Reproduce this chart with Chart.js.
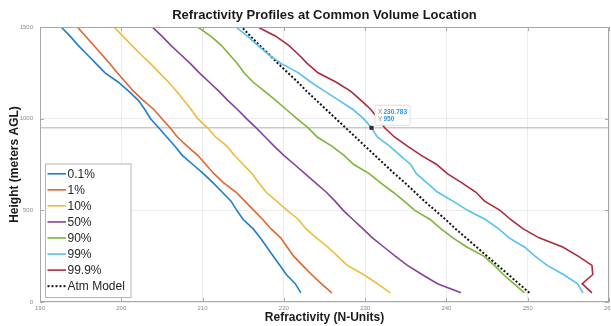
<!DOCTYPE html>
<html>
<head>
<meta charset="utf-8">
<title>Refractivity Profiles at Common Volume Location</title>
<script src="https://cdn.jsdelivr.net/npm/chart.js@4/dist/chart.umd.min.js"></script>
<style>
  html, body { margin: 0; padding: 0; background: #ffffff; overflow: hidden; }
  canvas { display: block; }
</style>
</head>
<body>
<canvas id="chart" width="611" height="326"></canvas>
<script>
// Heights above ground level (m) shared by every profile
const heights = [50, 100, 150, 200, 250, 300, 350, 400, 450, 500,
                 550, 600, 650, 700, 750, 800, 850, 900, 950, 1000,
                 1050, 1100, 1150, 1200, 1250, 1300, 1350, 1400, 1450, 1500];

// Refractivity (N-units) percentile profiles, one value per height
const p0_1 = [222.1, 221.4, 220.3, 219.5, 218.7, 217.9, 217.1, 216.2, 215.0, 214.2,
              213.5, 212.4, 211.3, 210.1, 208.8, 207.5, 206.6, 205.6, 204.6, 203.6,
              202.9, 202.1, 200.9, 199.6, 198.0, 196.9, 195.8, 194.7, 193.7, 192.6];
const p1   = [225.9, 224.6, 223.4, 222.3, 221.2, 220.4, 219.6, 218.4, 217.4, 216.3,
              215.2, 214.1, 212.6, 211.4, 210.4, 209.4, 208.1, 206.9, 206.0, 205.0,
              204.0, 202.7, 201.5, 200.5, 199.5, 198.6, 197.6, 196.6, 195.6, 194.6];
const p10  = [233.1, 231.5, 229.8, 227.8, 226.6, 225.4, 224.0, 222.7, 221.8, 220.4,
              219.1, 217.8, 216.9, 216.1, 215.0, 213.9, 213.0, 211.6, 210.6, 209.4,
              208.6, 207.7, 206.8, 205.8, 204.7, 203.6, 202.4, 201.3, 200.2, 199.1];
const p50  = [241.8, 238.9, 237.0, 235.2, 233.7, 232.3, 230.9, 229.7, 228.5, 227.3,
              226.3, 225.2, 223.9, 222.6, 221.3, 220.0, 218.8, 217.7, 216.6, 215.4,
              214.3, 213.1, 212.0, 210.8, 209.6, 208.5, 207.3, 206.1, 205.0, 203.8];
const p90  = [249.6, 248.3, 247.0, 245.9, 244.6, 242.5, 240.8, 239.3, 238.0, 236.1,
              234.8, 233.4, 231.9, 230.5, 228.6, 227.4, 225.9, 224.1, 223.0, 221.6,
              220.3, 219.0, 217.6, 216.2, 215.1, 214.3, 213.3, 212.3, 211.0, 209.4];
const p99  = [256.8, 256.1, 254.4, 252.4, 250.9, 249.6, 247.7, 246.4, 244.8, 242.6,
              240.8, 238.9, 237.6, 236.3, 235.6, 234.3, 233.0, 231.5, 230.783, 229.8,
              228.5, 226.8, 225.0, 223.3, 221.8, 219.7, 218.1, 216.8, 215.5, 214.1];
const p99_9 = [257.9, 256.7, 258.0, 257.9, 256.2, 254.3, 251.4, 249.4, 247.9, 246.6,
               244.7, 243.6, 241.9, 240.1, 238.8, 236.9, 235.2, 233.6, 232.4, 231.6,
               230.7, 229.5, 228.2, 226.4, 224.2, 222.9, 221.8, 220.6, 219.0, 216.8];
// Reference atmosphere model
const atmModel = [250.2, 248.9, 247.6, 246.3, 245.0, 243.7, 242.4, 241.1, 239.9, 238.6,
                  237.3, 236.1, 234.9, 233.6, 232.4, 231.2, 230.0, 228.8, 227.6, 226.4,
                  225.2, 224.0, 222.8, 221.7, 220.5, 219.3, 218.2, 217.0, 215.9, 214.8];

const seriesLabels = ['0.1%', '1%', '10%', '50%', '90%', '99%', '99.9%', 'Atm Model'];
const seriesValues = [p0_1, p1, p10, p50, p90, p99, p99_9, atmModel];
const seriesColors = ['#1f7fc6', '#e0652f', '#f0bb3a', '#8a3f9a', '#7eb43a', '#55c1ee', '#aa2a3e', '#111111'];

const xTicks = [190, 200, 210, 220, 230, 240, 250, 260];
const yTicks = [0, 500, 1000, 1500];

// Data tip pinned on the 99% profile at 950 m
const tipSeries = 5;
const tipIndex = heights.indexOf(950);

const FONT = "'Liberation Sans', Arial, Helvetica, sans-serif";
Chart.defaults.font.family = FONT;

const datasets = seriesValues.map((vals, i) => {
  const isModel = seriesLabels[i] === 'Atm Model';
  return {
    label: seriesLabels[i],
    data: vals.map((v, k) => ({ x: v, y: heights[k] })),
    borderColor: seriesColors[i],
    backgroundColor: seriesColors[i],
    borderWidth: isModel ? 2 : 1.6,
    borderDash: isModel ? [2, 2] : [],
    pointRadius: 0,
    tension: 0,
    fill: false
  };
});

// Axes box with inward tick marks, plus the horizontal cursor line
const framePlugin = {
  id: 'frame',
  beforeDatasetsDraw(chart) {
    const { ctx, chartArea: a, scales } = chart;
    const yp = scales.y.getPixelForValue(heights[tipIndex]);
    ctx.save();
    ctx.strokeStyle = '#c9c9c9';
    ctx.lineWidth = 1.5;
    ctx.beginPath();
    ctx.moveTo(a.left, yp);
    ctx.lineTo(a.right, yp);
    ctx.stroke();
    ctx.restore();
  },
  afterDatasetsDraw(chart) {
    const { ctx, chartArea: a, scales } = chart;
    ctx.save();
    ctx.strokeStyle = '#a8a8a8';
    ctx.lineWidth = 1;
    ctx.strokeRect(a.left + 0.5, a.top + 0.5, a.right - a.left - 1, a.bottom - a.top - 1);
    ctx.beginPath();
    const tl = 4;
    xTicks.forEach(v => {
      const px = Math.round(scales.x.getPixelForValue(v)) + 0.5;
      ctx.moveTo(px, a.bottom); ctx.lineTo(px, a.bottom - tl);
      ctx.moveTo(px, a.top); ctx.lineTo(px, a.top + tl);
    });
    yTicks.forEach(v => {
      const py = Math.round(scales.y.getPixelForValue(v)) + 0.5;
      ctx.moveTo(a.left, py); ctx.lineTo(a.left + tl, py);
      ctx.moveTo(a.right, py); ctx.lineTo(a.right - tl, py);
    });
    ctx.stroke();
    ctx.restore();
  }
};

// Legend box in the lower-left corner of the axes
const legendPlugin = {
  id: 'boxLegend',
  afterDraw(chart) {
    const { ctx } = chart;
    const left = 45, top = 163.5, width = 85.5, height = 133.5;
    const rowTop = 173.8, rowStep = 16.05;
    ctx.save();
    ctx.fillStyle = '#ffffff';
    ctx.fillRect(left, top, width, height);
    ctx.strokeStyle = '#b4b4b4';
    ctx.lineWidth = 1;
    ctx.strokeRect(left + 0.5, top + 0.5, width, height);
    ctx.font = '12px ' + FONT;
    ctx.textBaseline = 'middle';
    ctx.textAlign = 'left';
    chart.data.datasets.forEach((ds, i) => {
      const y = rowTop + i * rowStep;
      ctx.strokeStyle = ds.borderColor;
      ctx.lineWidth = ds.borderWidth;
      ctx.setLineDash(ds.borderDash || []);
      ctx.beginPath();
      ctx.moveTo(47.5, y);
      ctx.lineTo(66, y);
      ctx.stroke();
      ctx.setLineDash([]);
      ctx.fillStyle = '#262626';
      ctx.fillText(ds.label, 67.5, y + 0.5);
    });
    ctx.restore();
  }
};

// Data tip marker and label box
const tipPlugin = {
  id: 'dataTip',
  afterDraw(chart) {
    const { ctx, scales } = chart;
    const xv = seriesValues[tipSeries][tipIndex];
    const yv = heights[tipIndex];
    const px = scales.x.getPixelForValue(xv);
    const py = scales.y.getPixelForValue(yv);
    ctx.save();
    ctx.fillStyle = '#2b2b2b';
    ctx.fillRect(px - 2, py - 2, 4, 4);
    const bx = px + 3.5, by = py - 22.5, bw = 35, bh = 20;
    ctx.shadowColor = 'rgba(0,0,0,0.12)';
    ctx.shadowBlur = 2;
    ctx.fillStyle = 'rgba(255,255,255,0.95)';
    ctx.beginPath();
    ctx.roundRect(bx, by, bw, bh, 2);
    ctx.fill();
    ctx.shadowColor = 'transparent';
    ctx.strokeStyle = '#dadada';
    ctx.lineWidth = 0.8;
    ctx.stroke();
    ctx.font = '6.5px ' + FONT;
    ctx.textBaseline = 'middle';
    ctx.fillStyle = '#8a8a8a';
    ctx.fillText('X', bx + 3, by + 6.5);
    ctx.fillText('Y', bx + 3, by + 13.5);
    ctx.fillStyle = '#2f95e8';
    ctx.font = 'bold 6.5px ' + FONT;
    ctx.fillText(String(xv), bx + 8.5, by + 6.5);
    ctx.fillText(String(yv), bx + 8.5, by + 13.5);
    ctx.restore();
  }
};

new Chart(document.getElementById('chart'), {
  type: 'line',
  data: { datasets },
  options: {
    responsive: false,
    animation: false,
    devicePixelRatio: 1,
    layout: { padding: { left: 0, right: 2, top: 0, bottom: 0 } },
    plugins: {
      legend: { display: false },
      tooltip: { enabled: false },
      title: {
        display: true,
        fullSize: false,
        text: 'Refractivity Profiles at Common Volume Location',
        color: '#1a1a1a',
        font: { size: 13, weight: 'bold', family: FONT },
        padding: { top: 8, bottom: 3.4 }
      }
    },
    scales: {
      x: {
        type: 'linear',
        position: 'bottom',
        min: 190,
        max: 260,
        afterBuildTicks: s => { s.ticks = xTicks.map(v => ({ value: v })); },
        afterFit: s => { s.height = 24; s.paddingLeft = 0; s.paddingRight = 0; },
        ticks: {
          callback: v => String(v),
          color: '#8a8a8a',
          font: { size: 6, family: FONT },
          padding: 3,
          maxRotation: 0,
          autoSkip: false
        },
        grid: { color: '#ececec', lineWidth: 1, drawTicks: false },
        border: { display: false },
        title: {
          display: true,
          text: 'Refractivity (N-Units)',
          color: '#1a1a1a',
          font: { size: 12, weight: 'bold', family: FONT },
          padding: { top: 0, bottom: 1 }
        }
      },
      y: {
        type: 'linear',
        position: 'left',
        min: 0,
        max: 1500,
        afterBuildTicks: s => { s.ticks = yTicks.map(v => ({ value: v })); },
        afterFit: s => { s.width = 40; s.paddingTop = 0; s.paddingBottom = 0; },
        ticks: {
          callback: v => String(v),
          color: '#8a8a8a',
          font: { size: 6, family: FONT },
          padding: 7,
          autoSkip: false
        },
        grid: { color: '#ececec', lineWidth: 1, drawTicks: false },
        border: { display: false },
        title: {
          display: true,
          text: 'Height (meters AGL)',
          color: '#1a1a1a',
          font: { size: 12, weight: 'bold', family: FONT },
          padding: { top: 7, bottom: 0 }
        }
      }
    }
  },
  plugins: [framePlugin, legendPlugin, tipPlugin]
});
</script>
</body>
</html>
